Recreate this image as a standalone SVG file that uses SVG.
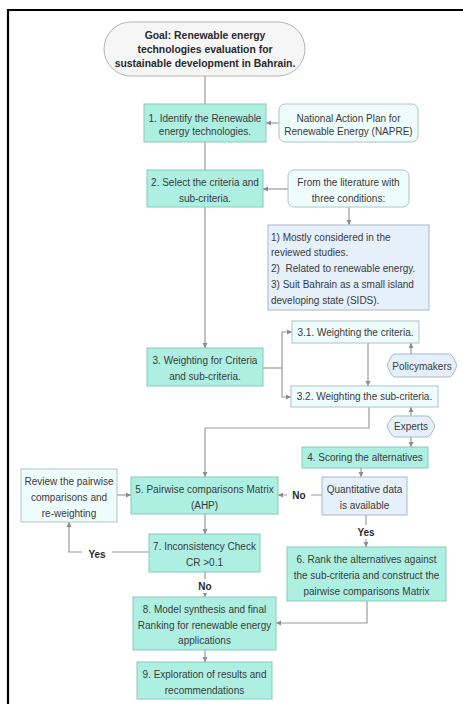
<svg xmlns="http://www.w3.org/2000/svg" width="463" height="704" viewBox="0 0 463 704">
<defs>
<marker id="ah" markerUnits="userSpaceOnUse" markerWidth="6" markerHeight="6" refX="5" refY="3" orient="auto">
<path d="M0,0.5 L5,3 L0,5.5 z" fill="#8c8c8c"/>
</marker>
<style>
text{font-family:"Liberation Sans",Arial,sans-serif;font-size:10px;fill:#3a3a3a;text-anchor:middle}
.b{font-weight:bold;fill:#2a2a2a}
.g{font-size:10.4px}
.l{text-anchor:start}
.teal{fill:#adf0e2;stroke:#88c8ba;stroke-width:1}
.cyan{fill:#effcfc;stroke:#a9c6c8;stroke-width:1}
.blue{fill:#e5f0fb;stroke:#a7b9ca;stroke-width:1}
.goal{fill:#f6f6f6;stroke:#b3b3b3;stroke-width:1}
.c{fill:none;stroke:#9a9a9a;stroke-width:1.2}
.a{marker-end:url(#ah)}
</style>
</defs>
<rect width="463" height="704" fill="#ffffff"/>
<path d="M8,704 V10 H463" fill="none" stroke="#000" stroke-width="2.2"/>

<g id="connectors">
<path class="c" d="M205,76 V104"/>
<path class="c a" d="M279,123 H266"/>
<path class="c" d="M205,142 V170"/>
<path class="c a" d="M288,189 H263"/>
<path class="c a" d="M349,207 V225"/>
<path class="c a" d="M205,207 V348"/>
<path class="c" d="M263,368 H282"/>
<path class="c a" d="M282,368 V332 H292"/>
<path class="c a" d="M282,368 V397 H291"/>
<path class="c a" d="M368,343 V386"/>
<path class="c a" d="M411,354 V343"/>
<path class="c a" d="M411,416 V407"/>
<path class="c a" d="M411,437 V447"/>
<path class="c a" d="M369,407 V428 H205 V477"/>
<path class="c a" d="M361,468 V477"/>
<path class="c a" d="M322,495 H278"/>
<path class="c a" d="M117,495 H131"/>
<path class="c a" d="M205,514 V534"/>
<path class="c a" d="M149,552 H69 V522"/>
<path class="c a" d="M205,572 V597"/>
<path class="c a" d="M205,650 V662"/>
<path class="c a" d="M366,515 V547"/>
<path class="c a" d="M367,601 V623 H276"/>
<rect x="287" y="488" width="24" height="14" fill="#fff"/>
<text class="b" x="299" y="499">No</text>
<rect x="82" y="546" width="30" height="14" fill="#fff"/>
<text class="b" x="97" y="557.5">Yes</text>
<rect x="192" y="579" width="26" height="14" fill="#fff"/>
<text class="b" x="205" y="590">No</text>
<rect x="351" y="525" width="30" height="14" fill="#fff"/>
<text class="b" x="366" y="535.5">Yes</text>
</g>

<g id="goal">
<rect class="goal" x="104" y="22" width="201" height="54" rx="27"/>
<text class="b g" x="205" y="39">Goal: Renewable energy</text>
<text class="b g" x="205" y="53">technologies evaluation for</text>
<text class="b g" x="205" y="67">sustainable development in Bahrain.</text>
</g>

<g id="n1">
<rect class="teal" x="144" y="104" width="122" height="38"/>
<text x="205" y="121.5">1. Identify the Renewable</text>
<text x="205" y="134.5">energy technologies.</text>
</g>

<g id="napre">
<rect class="cyan" x="279" y="104" width="139" height="38" rx="6"/>
<text x="348.5" y="121.5">National Action Plan for</text>
<text x="348.5" y="134.5">Renewable Energy (NAPRE)</text>
</g>

<g id="n2">
<rect class="teal" x="147" y="170" width="116" height="37"/>
<text x="205" y="185.5">2. Select the criteria and</text>
<text x="205" y="201.5">sub-criteria.</text>
</g>

<g id="literature">
<rect class="cyan" x="288" y="170" width="121" height="37" rx="6"/>
<text x="348.5" y="185.5">From the literature with</text>
<text x="348.5" y="201.5">three conditions:</text>
</g>

<g id="conditions">
<rect class="blue" x="268" y="225" width="161" height="85"/>
<text class="l" x="271" y="240.5">1) Mostly considered in the</text>
<text class="l" x="271" y="256">reviewed studies.</text>
<text class="l" x="271" y="272">2)&#160; Related to renewable energy.</text>
<text class="l" x="271" y="287.5">3) Suit Bahrain as a small island</text>
<text class="l" x="271" y="303.5">developing state (SIDS).</text>
</g>

<g id="n3">
<rect class="teal" x="147" y="348" width="116" height="38"/>
<text x="205" y="363.5">3. Weighting for Criteria</text>
<text x="205" y="379.5">and sub-criteria.</text>
</g>

<g id="n31">
<rect class="cyan" x="292" y="321" width="127" height="22"/>
<text x="355.5" y="335.5">3.1. Weighting the criteria.</text>
</g>

<g id="n32">
<rect class="cyan" x="291" y="386" width="147" height="21"/>
<text x="364.5" y="400">3.2. Weighting the sub-criteria.</text>
</g>

<g id="policymakers">
<path class="blue" d="M395,354 H449 Q451,354 453,357 L456,363 Q457,365.5 456,368 L453,374 Q451,377 449,377 H395 Q393,377 391,374 L388,368 Q387,365.5 388,363 L391,357 Q393,354 395,354 Z"/>
<text x="422" y="369.5">Policymakers</text>
</g>

<g id="experts">
<path class="blue" d="M395,416 H427 Q429,416 431,419 L434,424 Q435,426.5 434,429 L431,434 Q429,437 427,437 H395 Q393,437 391,434 L388,429 Q387,426.5 388,424 L391,419 Q393,416 395,416 Z"/>
<text x="411" y="430">Experts</text>
</g>

<g id="n4">
<rect class="teal" x="302" y="447" width="126" height="21"/>
<text x="365" y="461">4. Scoring the alternatives</text>
</g>

<g id="quantitative">
<rect class="blue" x="322" y="477" width="85" height="38"/>
<text x="364.5" y="492.5">Quantitative data</text>
<text x="364.5" y="508.5">is available</text>
</g>

<g id="n5">
<rect class="teal" x="131" y="477" width="147" height="37"/>
<text x="204.5" y="492.5">5. Pairwise comparisons Matrix</text>
<text x="204.5" y="508.5">(AHP)</text>
</g>

<g id="review">
<rect class="cyan" x="21" y="469" width="96" height="53"/>
<text x="69" y="484.5">Review the pairwise</text>
<text x="69" y="500.5">comparisons and</text>
<text x="69" y="516.5">re-weighting</text>
</g>

<g id="n7">
<rect class="teal" x="149" y="534" width="111" height="38"/>
<text x="204.5" y="549.5">7. Inconsistency Check</text>
<text x="204.5" y="565.5">CR &gt;0.1</text>
</g>

<g id="n6">
<rect class="teal" x="287" y="547" width="159" height="54"/>
<text x="366.5" y="562.5">6. Rank the alternatives against</text>
<text x="366.5" y="578.5">the sub-criteria and construct the</text>
<text x="366.5" y="594.5">pairwise comparisons Matrix</text>
</g>

<g id="n8">
<rect class="teal" x="133" y="597" width="143" height="53"/>
<text x="204.5" y="612.5">8. Model synthesis and final</text>
<text x="204.5" y="628.5">Ranking for renewable energy</text>
<text x="204.5" y="643.5">applications</text>
</g>

<g id="n9">
<rect class="teal" x="137" y="662" width="135" height="37"/>
<text x="204.5" y="677.5">9. Exploration of results and</text>
<text x="204.5" y="693.5">recommendations</text>
</g>
</svg>
